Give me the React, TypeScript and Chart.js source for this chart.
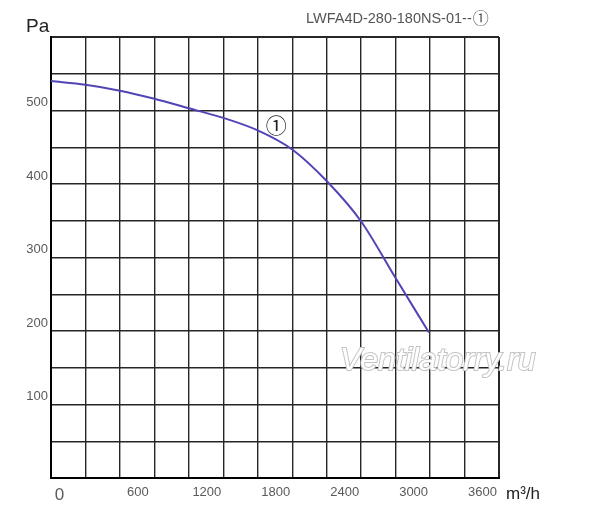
import { useEffect, useRef } from "react";
import { Chart, registerables, type Plugin } from "chart.js";

Chart.register(...registerables);

// fan curve LWFA4D-280-180NS-01
const flow = [0, 300, 600, 900, 1200, 1500, 1800, 2100, 2400, 2700, 3000, 3290];
const pressure = [540, 535, 527, 516, 503, 490, 473, 447, 404, 349, 272, 198];

const xLabelTicks = [0, 600, 1200, 1800, 2400, 3000, 3600];
const yLabelTicks = [100, 200, 300, 400, 500];

const curveMark = { x: 1960, y: 480, text: "①" };

const textPlugin: Plugin<"line"> = {
  id: "fanTexts",
  afterDraw(chart) {
    const { ctx } = chart;
    const xs = chart.scales.x;
    const ys = chart.scales.y;
    ctx.save();
    ctx.textBaseline = "alphabetic";

    ctx.fillStyle = "#222";
    ctx.font = "19px 'Liberation Sans', Arial, sans-serif";
    ctx.textAlign = "left";
    ctx.fillText("Pa", 26, 32);

    ctx.fillStyle = "#555";
    ctx.font = "14.5px 'Liberation Sans', Arial, sans-serif";
    ctx.textAlign = "left";
    const base = "LWFA4D-280-180NS-01--";
    ctx.fillText(base, 306, 23);
    const w = ctx.measureText(base).width;
    ctx.font = "16px 'Noto Sans CJK SC', sans-serif";
    ctx.fillText("①", 306 + w + 1, 24);

    ctx.fillStyle = "#222";
    ctx.font = "17px 'Liberation Sans', Arial, sans-serif";
    ctx.fillText("m³/h", 506, 499);

    ctx.font = "21px 'Noto Sans CJK SC', sans-serif";
    ctx.textAlign = "center";
    ctx.textBaseline = "middle";
    ctx.fillText(curveMark.text, xs.getPixelForValue(curveMark.x), ys.getPixelForValue(curveMark.y));

    // watermark
    ctx.font = "italic 32px 'Liberation Sans', Arial, sans-serif";
    ctx.textAlign = "left";
    ctx.textBaseline = "alphabetic";
    ctx.lineWidth = 2;
    ctx.strokeStyle = "#c4c4c4";
    ctx.strokeText("Ventilatorry.ru", 340, 370);
    ctx.fillStyle = "#ffffff";
    ctx.fillText("Ventilatorry.ru", 340, 370);
    ctx.restore();
  },
};

function FanChart() {
  const canvasRef = useRef<HTMLCanvasElement>(null);
  const chartRef = useRef<Chart<"line"> | null>(null);

  useEffect(() => {
    if (!canvasRef.current) return;

    chartRef.current = new Chart(canvasRef.current, {
      type: "line",
      data: {
        datasets: [
          {
            data: flow.map((f, i) => ({ x: f, y: pressure[i] })),
            borderColor: "#5145b6",
            borderWidth: 2,
            pointRadius: 0,
            cubicInterpolationMode: "monotone",
            fill: false,
          },
        ],
      },
      options: {
        responsive: true,
        maintainAspectRatio: false,
        animation: false,
        layout: { padding: { top: 37, right: 101, left: 0, bottom: 0 } },
        plugins: {
          legend: { display: false },
          tooltip: { enabled: false },
        },
        scales: {
          x: {
            type: "linear",
            min: 0,
            max: 3900,
            afterFit: (scale) => {
              scale.height = 44;
            },
            grid: {
              drawTicks: false,
              color: "#262626",
              lineWidth: (c) => (c.tick && (c.tick.value === 3900 || c.tick.value === 0) ? 2 : 1.4),
            },
            border: { display: true, color: "#000", width: 2 },
            ticks: {
              stepSize: 300,
              autoSkip: false,
              maxRotation: 0,
              padding: 7,
              labelOffset: 18,
              color: "#5a5a5a",
              font: (c) =>
                c.tick && c.tick.value === 0
                  ? { family: "'Liberation Sans', Arial, sans-serif", size: 17 }
                  : { family: "'Liberation Sans', Arial, sans-serif", size: 13 },
              callback: (v) => {
                const n = Number(v);
                if (!xLabelTicks.includes(n)) return "";
                return n === 0 ? "0    " : String(n);
              },
            },
          },
          y: {
            type: "linear",
            min: 0,
            max: 600,
            afterFit: (scale) => {
              scale.width = 51;
            },
            grid: {
              drawTicks: false,
              color: "#262626",
              lineWidth: (c) => (c.tick && (c.tick.value === 600 || c.tick.value === 0) ? 2 : 1.4),
            },
            border: { display: true, color: "#000", width: 2 },
            ticks: {
              stepSize: 50,
              autoSkip: false,
              padding: 3,
              labelOffset: -8,
              color: "#5a5a5a",
              font: { family: "'Liberation Sans', Arial, sans-serif", size: 13 },
              callback: (v) => (yLabelTicks.includes(Number(v)) ? String(v) : ""),
            },
          },
        },
      },
      plugins: [textPlugin],
    });

    return () => {
      chartRef.current?.destroy();
    };
  }, []);

  return (
    <div style={{ position: "fixed", left: 0, top: 0, width: 600, height: 522, background: "#fff" }}>
      <canvas ref={canvasRef} />
    </div>
  );
}

export default function App() {
  return <FanChart />;
}
